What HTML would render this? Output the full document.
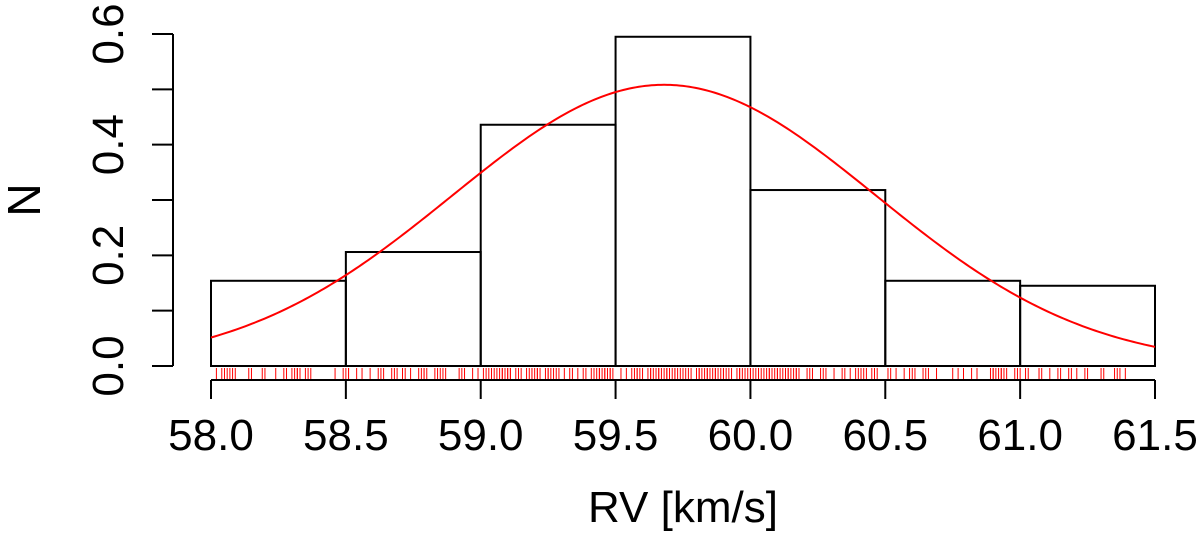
<!DOCTYPE html>
<html><head><meta charset="utf-8">
<style>html,body{margin:0;padding:0;background:#fff;}svg{display:block;font-family:"Liberation Sans",Arial,sans-serif;}</style>
</head><body>
<svg id="chart" width="1200" height="539" viewBox="0 0 1200 539" xmlns="http://www.w3.org/2000/svg">
<g id="bars"></g>
<g id="rug"></g>
<g id="curve"></g>
<g id="xaxis"></g>
<g id="yaxis"></g>
<text x="683" y="522" font-size="44" text-anchor="middle">RV [km/s]</text>
<text transform="translate(40,200) rotate(-90)" font-size="46" text-anchor="middle">N</text>
</svg>
<script>
const binEdges = [58.0, 58.5, 59.0, 59.5, 60.0, 60.5, 61.0, 61.5];
const binDensity = [0.154, 0.206, 0.436, 0.595, 0.318, 0.154, 0.145];
const xTicks = [58.0, 58.5, 59.0, 59.5, 60.0, 60.5, 61.0, 61.5];
const xTickLabels = ["58.0","58.5","59.0","59.5","60.0","60.5","61.0","61.5"];
const yTicks = [0, 0.1, 0.2, 0.3, 0.4, 0.5, 0.6];
const yTickLabels = ["0.0","","0.2","","0.4","","0.6"];
const fitMean = 59.68;
const fitSd = 0.785;
const rugValues = [58.02,58.04,58.05,58.06,58.07,58.08,58.09,58.14,58.15,58.19,58.20,58.24,58.27,58.28,58.30,58.31,58.32,58.32,58.33,58.35,58.36,58.37,58.46,58.49,58.50,58.51,58.51,58.54,58.56,58.59,58.62,58.63,58.64,58.67,58.68,58.69,58.71,58.72,58.74,58.77,58.78,58.79,58.79,58.80,58.83,58.84,58.85,58.86,58.87,58.92,58.93,58.94,58.97,58.99,
59.01,59.02,59.03,59.04,59.04,59.05,59.06,59.07,59.08,59.08,59.09,59.10,59.10,59.11,59.11,59.13,59.14,59.15,59.17,59.18,59.19,59.19,59.20,59.21,59.21,59.22,59.24,59.25,59.25,59.26,59.27,59.28,59.29,59.31,59.33,59.34,59.36,59.38,59.39,59.41,59.42,59.43,59.44,59.44,59.45,59.46,59.46,59.47,59.48,59.48,59.49,59.52,59.54,59.56,59.57,59.58,59.58,59.59,59.60,
59.62,59.63,59.63,59.64,59.65,59.66,59.66,59.67,59.68,59.69,59.69,59.70,59.71,59.72,59.72,59.73,59.74,59.75,59.76,59.77,59.78,
59.80,59.81,59.81,59.82,59.83,59.84,59.84,59.85,59.86,59.87,59.87,59.88,59.89,59.90,59.90,59.91,59.92,59.93,
59.95,59.96,59.96,59.97,59.98,59.99,60.00,60.00,60.01,60.02,60.03,60.03,60.04,60.05,60.06,60.07,60.07,60.08,60.09,60.10,60.10,60.11,60.12,60.13,60.14,60.14,60.15,60.16,60.17,60.17,60.18,
60.21,60.22,60.23,60.26,60.27,60.28,60.31,60.34,60.35,60.37,60.39,60.40,60.41,60.41,60.42,60.43,60.45,60.46,60.46,60.47,60.51,60.52,60.54,60.57,60.59,60.60,60.61,60.64,60.65,60.66,60.69,60.75,60.77,60.79,60.82,60.84,
60.89,60.90,60.90,60.91,60.92,60.93,60.93,60.94,60.95,60.98,60.99,61.00,61.02,61.03,61.07,61.07,61.08,61.11,61.14,61.15,61.18,61.19,61.21,61.24,61.25,61.30,61.31,61.35,61.36,61.37,61.39];

const NS = "http://www.w3.org/2000/svg";
const X0 = 211, X1 = 1155, Y0 = 366, Y1 = 34;
function xs(v){ return X0 + (v - 58.0) / 3.5 * (X1 - X0); }
function ys(v){ return Y0 - v / 0.6 * (Y0 - Y1); }
function mk(tag, attrs, parent){ const e = document.createElementNS(NS, tag); for (const k in attrs) e.setAttribute(k, attrs[k]); parent.appendChild(e); return e; }

const gb = document.getElementById('bars');
binDensity.forEach((d, i) => {
  const r = mk('rect', {x: xs(binEdges[i]), y: ys(d), width: xs(binEdges[i+1]) - xs(binEdges[i]), height: ys(0) - ys(d), fill: 'none', stroke: '#000', 'stroke-width': 2}, gb);
  
  
});

const gr = document.getElementById('rug');
rugValues.forEach(v => {
  const l = mk('line', {x1: xs(v), x2: xs(v), y1: 368, y2: 379, stroke: '#ff0000', 'stroke-width': 1}, gr);
  
  
});

const gc = document.getElementById('curve');
let pts = [];
for (let i = 0; i <= 300; i++) {
  const v = 58.0 + 3.5 * i / 300;
  const d = Math.exp(-0.5 * Math.pow((v - fitMean) / fitSd, 2)) / (fitSd * Math.sqrt(2 * Math.PI));
  pts.push(xs(v).toFixed(2) + ',' + ys(d).toFixed(2));
}
const pl = mk('polyline', {points: pts.join(' '), fill: 'none', stroke: '#ff0000', 'stroke-width': 2}, gc);



const gx = document.getElementById('xaxis');
const XA = 380;
mk('line', {x1: xs(xTicks[0]), x2: xs(xTicks[xTicks.length-1]), y1: XA, y2: XA, stroke: '#000', 'stroke-width': 2}, gx);
xTicks.forEach((t, i) => {
  mk('line', {x1: xs(t), x2: xs(t), y1: XA, y2: XA + 19, stroke: '#000', 'stroke-width': 2}, gx);
  const tx = mk('text', {x: xs(t), y: 450, 'font-size': 44, 'text-anchor': 'middle'}, gx);
  tx.textContent = xTickLabels[i];
  
  
});

const gy = document.getElementById('yaxis');
const YA = 173;
mk('line', {x1: YA, x2: YA, y1: ys(yTicks[0]), y2: ys(yTicks[yTicks.length-1]), stroke: '#000', 'stroke-width': 2}, gy);
yTicks.forEach((t, i) => {
  mk('line', {x1: YA - 21, x2: YA, y1: ys(t), y2: ys(t), stroke: '#000', 'stroke-width': 2}, gy);
  if (yTickLabels[i]) {
    const tx = mk('text', {transform: 'translate(123,' + ys(t) + ') rotate(-90)', 'font-size': 44, 'text-anchor': 'middle'}, gy);
    tx.textContent = yTickLabels[i];
    
    
  }
});
</script>
</body></html>
